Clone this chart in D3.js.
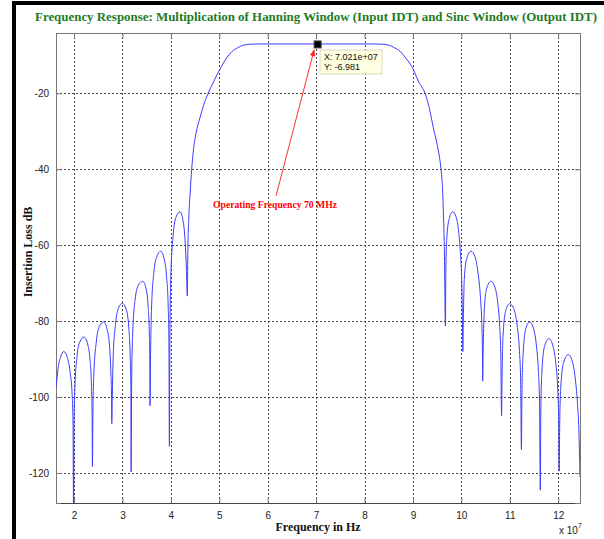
<!DOCTYPE html>
<html><head><meta charset="utf-8">
<script src="https://cdn.jsdelivr.net/npm/d3@7"></script>
<style>
html,body{margin:0;padding:0;background:#fff;}
svg{display:block;}
</style>
</head><body>
<script>
// Frequency in units of 1e7 Hz, insertion loss in dB
const freq = [
 1.63,1.67,1.72,1.79,1.86,1.92,1.96,1.98,1.99,
 2.00,2.02,2.06,2.12,2.21,2.28,2.33,2.36,2.375,2.38,
 2.39,2.41,2.46,2.52,2.61,2.68,2.73,2.76,2.775,2.78,
 2.79,2.81,2.86,2.92,3.00,3.08,3.13,3.16,3.175,3.18,
 3.19,3.21,3.26,3.33,3.42,3.49,3.53,3.555,3.565,3.57,
 3.58,3.60,3.65,3.71,3.79,3.86,3.91,3.945,3.96,3.97,
 3.98,4.00,4.05,4.11,4.19,4.25,4.29,4.32,4.34,
 4.35,4.37,4.40,4.43,4.47,4.52,4.60,4.68,4.77,4.88,5.02,5.15,5.26,5.38,5.50,5.65,5.80,
 6.50,7.021,7.50,8.20,8.35,8.50,8.62,8.74,8.85,8.98,9.12,9.25,9.34,9.42,9.50,9.55,9.58,9.61,9.63,9.65,9.67,
 9.68,9.70,9.75,9.82,9.89,9.94,9.98,10.01,10.02,10.03,
 10.04,10.06,10.11,10.20,10.28,10.34,10.39,10.42,10.435,10.44,
 10.45,10.47,10.52,10.61,10.69,10.75,10.79,10.815,10.83,
 10.84,10.86,10.92,11.00,11.09,11.15,11.20,11.225,11.24,
 11.25,11.27,11.33,11.41,11.49,11.55,11.59,11.615,11.63,
 11.64,11.66,11.72,11.81,11.89,11.95,11.99,12.01,12.02,
 12.03,12.05,12.11,12.21,12.30,12.36,12.40,12.43,12.45
];
const loss = [
 -97.5,-92.5,-89.5,-88.0,-89.5,-93.5,-99,-107,-131,
 -107,-97,-89.5,-85.5,-84.2,-86,-90,-97,-106,-118.3,
 -104,-94,-85.5,-81.5,-80.2,-82,-86,-93,-100,-107,
 -100,-89,-80.5,-76.5,-75.3,-77,-81.5,-89,-98,-119.7,
 -96,-84,-74.5,-70.5,-69.5,-71.5,-76,-83,-90,-102.3,
 -90,-77,-67,-63,-61.6,-63.5,-68,-76,-85,-113,
 -85,-68,-57,-52.5,-51.2,-53.5,-58,-66,-73.4,
 -62,-53,-46,-40,-34.5,-30.5,-26.5,-23,-20,-17,-13.5,-10.7,-9.0,-8.0,-7.3,-7.05,-6.98,
 -6.98,-6.981,-6.98,-6.98,-7.05,-7.3,-8.0,-9.0,-10.7,-13.0,-17,-20,-24,-29,-33.5,-37,-40,-45,-52,-62,-81.3,
 -66,-58,-53,-51.2,-52.5,-56,-62,-71,-78,-88,
 -80,-69,-63.5,-61.6,-63,-67,-73,-80,-87,-95.8,
 -88,-78,-71.5,-69.5,-71,-75,-81,-89,-104.9,
 -95,-84,-77,-75.4,-77,-81,-88,-96,-113.8,
 -100,-90,-82,-80.2,-82,-86.5,-93,-102,-124.5,
 -105,-94,-86.5,-84.6,-86.5,-91,-98,-106,-119.5,
 -108,-98,-91,-88.8,-91,-96,-102,-110,-121
];
const xTicks = [2,3,4,5,6,7,8,9,10,11,12];
const yTicks = [-20,-40,-60,-80,-100,-120];
const tipX = 7.021, tipY = -6.981;
const titleText = "Frequency Response: Multiplication of Hanning Window (Input IDT) and Sinc Window (Output IDT)";

const W = 604, H = 539;
const L = 56, R = 580, T = 33, B = 503;
const svg = d3.select("body").append("svg").attr("width", W).attr("height", H);

// outer black frame (top & left)
svg.append("rect").attr("x",12).attr("y",1).attr("width",592).attr("height",4).attr("fill","#000");
svg.append("rect").attr("x",12).attr("y",1).attr("width",4).attr("height",538).attr("fill","#000");

const x = d3.scaleLinear().domain([1.628, 12.45]).range([L, R]);
const y = d3.scaleLinear().domain([-4.1, -127.9]).range([T, B]);

// grid
const grid = svg.append("g");
grid.selectAll(".vg").data(xTicks).enter().append("line")
  .attr("x1", d=>Math.round(x(d))+0.5).attr("x2", d=>Math.round(x(d))+0.5)
  .attr("y1", T).attr("y2", B)
  .attr("stroke","#444").attr("stroke-width",1).attr("stroke-dasharray","2,2");
grid.selectAll(".hg").data(yTicks).enter().append("line")
  .attr("y1", d=>Math.round(y(d))+0.5).attr("y2", d=>Math.round(y(d))+0.5)
  .attr("x1", L).attr("x2", R)
  .attr("stroke","#444").attr("stroke-width",1).attr("stroke-dasharray","2,2");

// axes
const axB = d3.axisBottom(x).tickValues(xTicks).tickSize(-5).tickPadding(9).tickFormat(d3.format("d"));
const axL = d3.axisLeft(y).tickValues(yTicks).tickSize(-5).tickPadding(7).tickFormat(d=>d);
const axT = d3.axisTop(x).tickValues(xTicks).tickSize(-5).tickFormat("");
const axR = d3.axisRight(y).tickValues(yTicks).tickSize(-5).tickFormat("");
function styleAx(g){
  g.select(".domain").attr("stroke","#777");
  g.selectAll(".tick line").attr("stroke","#777");
  g.selectAll("text").attr("font-family","Arial, 'Liberation Sans', sans-serif").attr("font-size","10px").attr("fill","#222");
}
svg.append("g").attr("transform",`translate(0,${B})`).call(axB).call(styleAx).call(g=>g.select(".domain").attr("stroke","#444"));
svg.append("g").attr("transform",`translate(${L},0)`).call(axL).call(styleAx);
svg.append("g").attr("transform",`translate(0,${T})`).call(axT).call(styleAx);
svg.append("g").attr("transform",`translate(${R},0)`).call(axR).call(styleAx);

// curve
svg.append("clipPath").attr("id","clip").append("rect").attr("x",L).attr("y",T).attr("width",R-L).attr("height",B-T);
const pts = freq.map((f,i)=>[f, loss[i]]);
const line = d3.line().x(d=>x(d[0])).y(d=>y(d[1])).curve(d3.curveMonotoneX);
svg.append("path").attr("d", line(pts)).attr("clip-path","url(#clip)")
  .attr("fill","none").attr("stroke","#3b3bff").attr("stroke-width",1);

// annotation arrow
svg.append("defs").append("marker").attr("id","ah").attr("viewBox","0 0 10 10")
  .attr("refX",9).attr("refY",5).attr("markerWidth",7).attr("markerHeight",7).attr("orient","auto")
  .append("path").attr("d","M0,1 L10,5 L0,9 z").attr("fill","#ff2020");
svg.append("line").attr("x1",276).attr("y1",196).attr("x2",x(tipX)-3).attr("y2",y(tipY)+6)
  .attr("stroke","#ff3030").attr("stroke-width",1).attr("marker-end","url(#ah)");
svg.append("text").attr("x",275).attr("y",208).attr("text-anchor","middle")
  .attr("font-family","'Liberation Serif', 'Times New Roman', serif").attr("font-weight","bold")
  .attr("font-size","11px").attr("fill","#ff0000")
  .attr("textLength",124).attr("lengthAdjust","spacingAndGlyphs").text("Operating Frequency 70 MHz");

// data tip
svg.append("rect").attr("x",x(tipX)-3).attr("y",y(tipY)-3).attr("width",7).attr("height",7)
  .attr("fill","#000").attr("stroke","#444");
const tip = svg.append("g");
tip.append("rect").attr("x",320).attr("y",50).attr("width",62).attr("height",24)
  .attr("fill","#ffffe1").attr("stroke","#d8d8c0").attr("stroke-width",1);
tip.append("text").attr("x",324).attr("y",60).attr("font-family","Arial, 'Liberation Sans', sans-serif")
  .attr("font-size","9px").attr("fill","#111").text("X: 7.021e+07");
tip.append("text").attr("x",324).attr("y",70).attr("font-family","Arial, 'Liberation Sans', sans-serif")
  .attr("font-size","9px").attr("fill","#111").text("Y: " + tipY);

// title & labels
svg.append("text").attr("x",316).attr("y",21).attr("text-anchor","middle")
  .attr("font-family","'Liberation Serif', 'Times New Roman', serif").attr("font-weight","bold")
  .attr("font-size","12.5px").attr("fill","#1f7a1f")
  .attr("textLength",562).attr("lengthAdjust","spacingAndGlyphs").text(titleText);
svg.append("text").attr("x",318).attr("y",531).attr("text-anchor","middle")
  .attr("font-family","'Liberation Serif', 'Times New Roman', serif").attr("font-weight","bold")
  .attr("font-size","12px").attr("fill","#111").text("Frequency in Hz");
svg.append("text").attr("transform","translate(32,252) rotate(-90)").attr("text-anchor","middle")
  .attr("font-family","'Liberation Serif', 'Times New Roman', serif").attr("font-weight","bold")
  .attr("font-size","12px").attr("fill","#111").text("Insertion Loss dB");
const ex = svg.append("text").attr("x",559).attr("y",534)
  .attr("font-family","Arial, 'Liberation Sans', sans-serif").attr("font-size","10px").attr("fill","#222");
ex.append("tspan").text("x 10");
ex.append("tspan").attr("dy",-6).attr("font-size","7px").text("7");
</script>
</body></html>
